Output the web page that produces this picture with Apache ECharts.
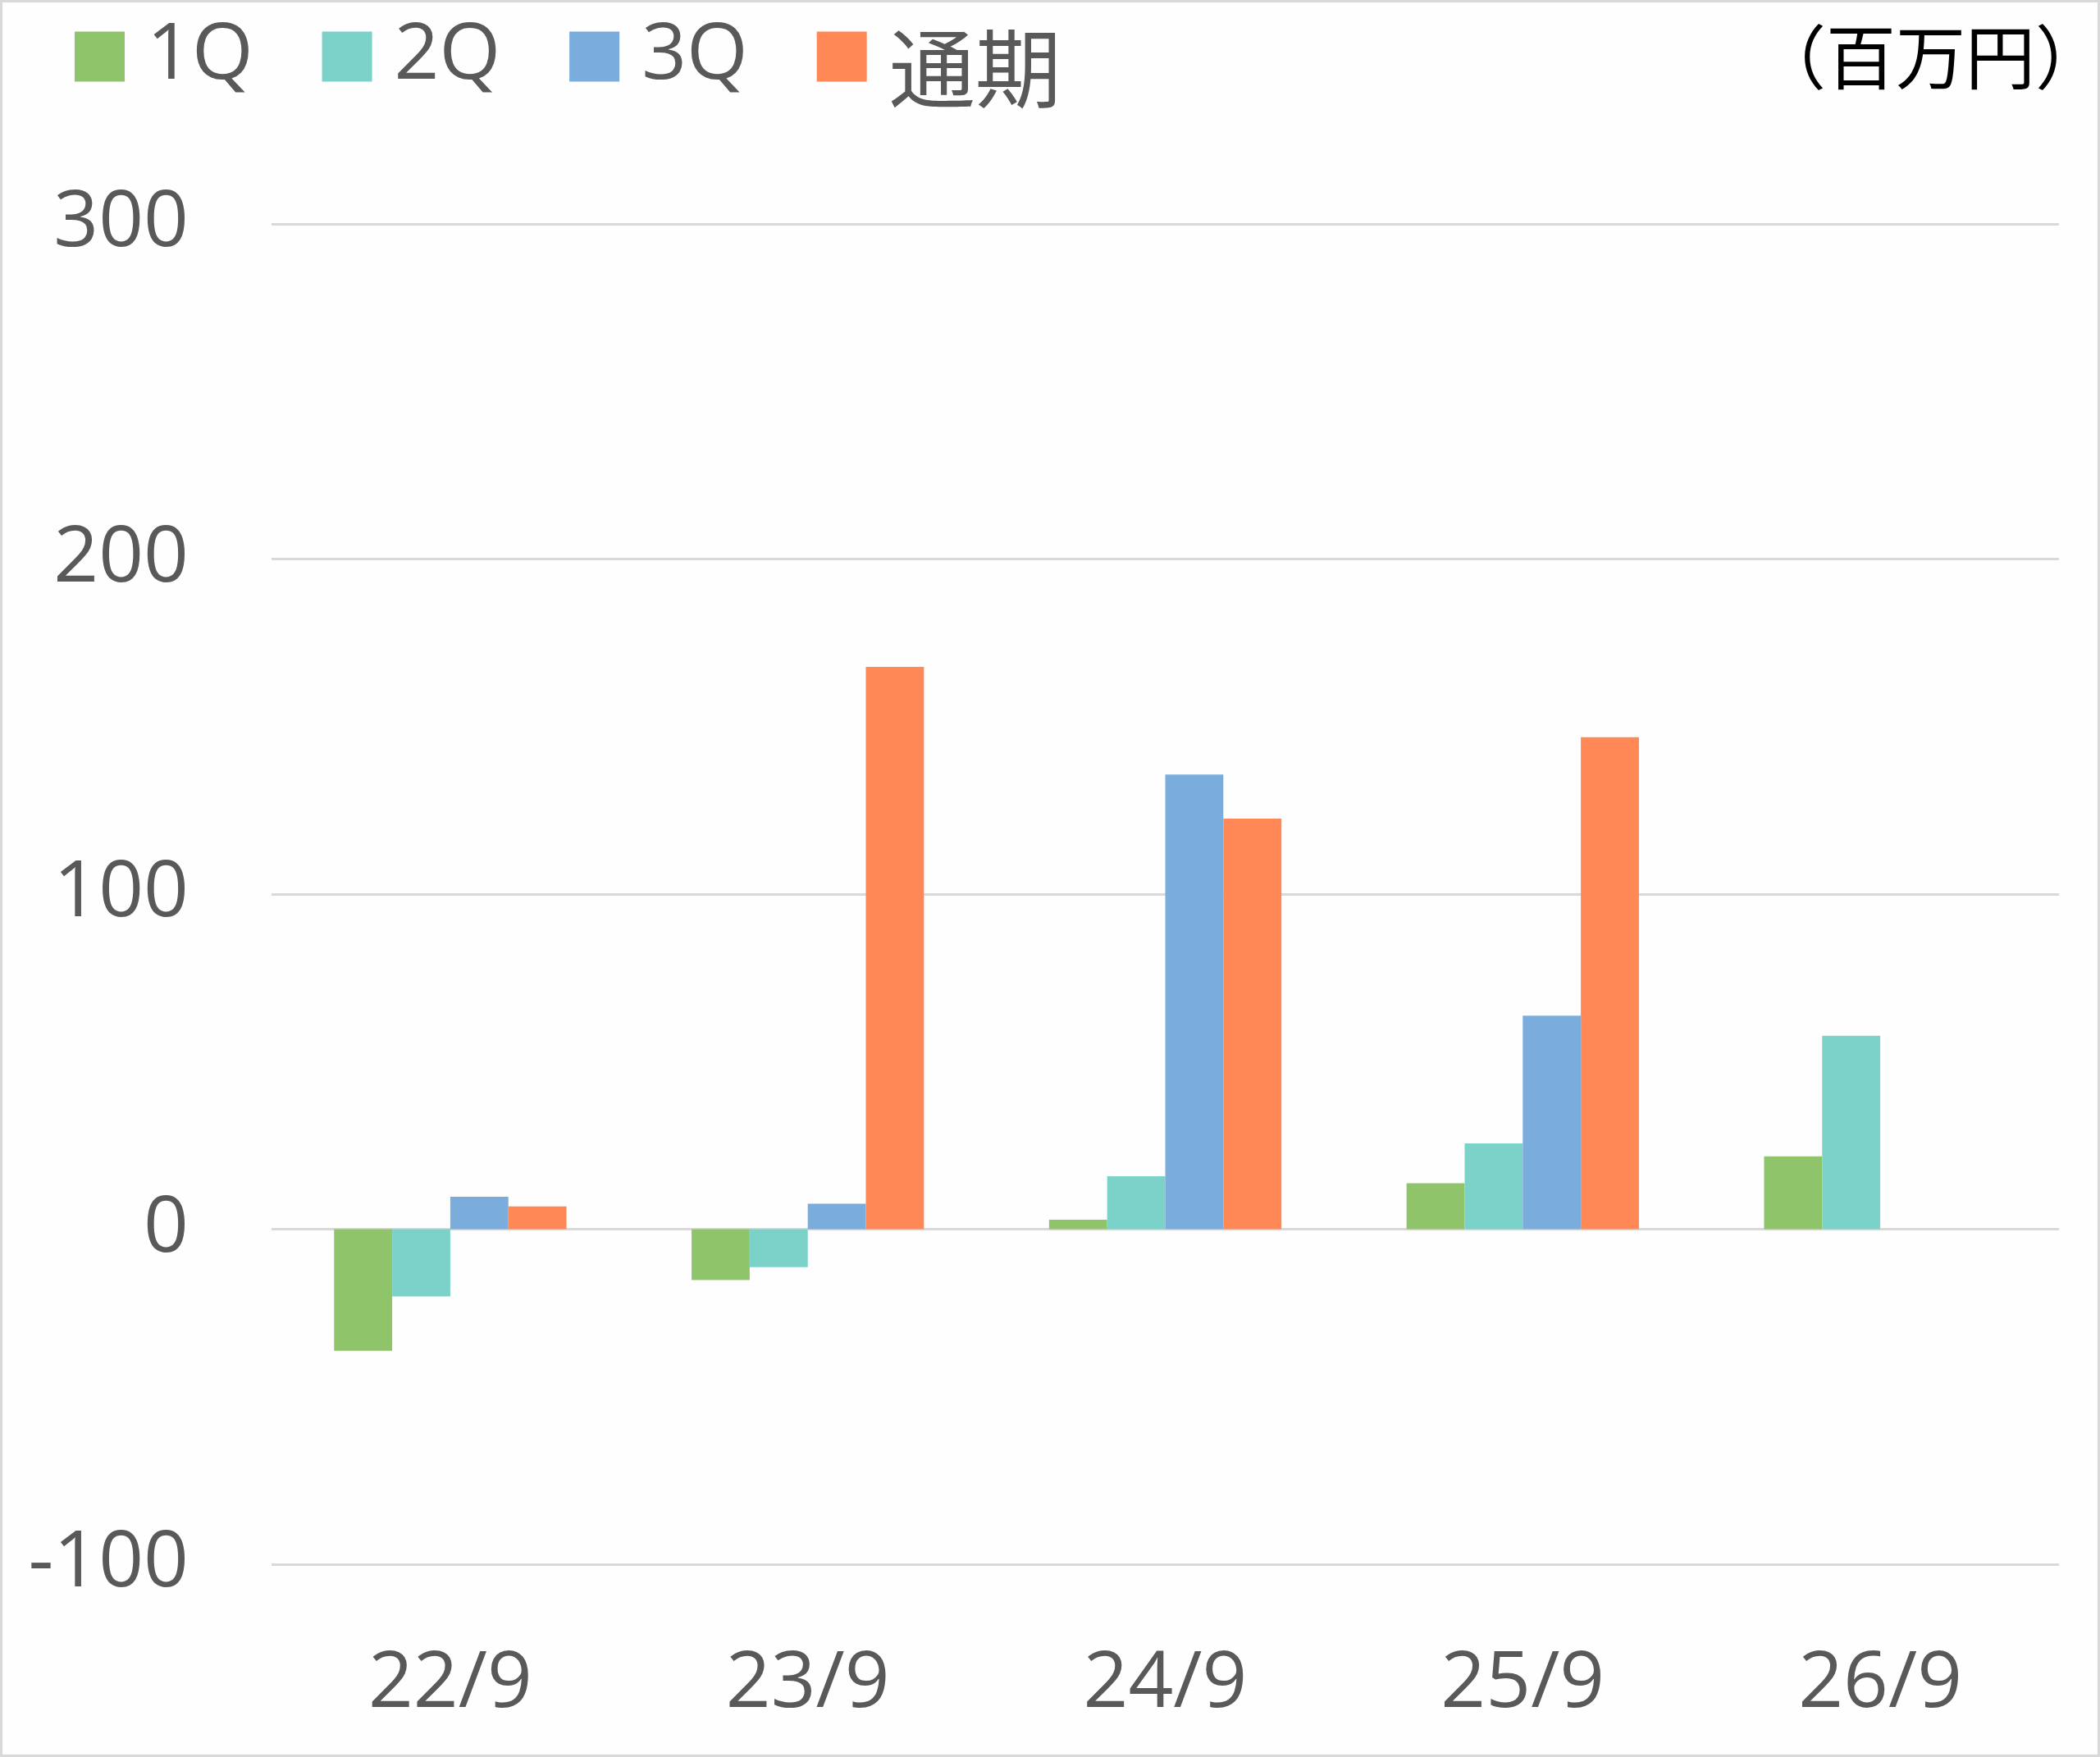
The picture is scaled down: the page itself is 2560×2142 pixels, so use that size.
<!DOCTYPE html>
<html lang="ja">
<head>
<meta charset="UTF-8">
<title>四半期別 利益推移</title>
<style>
    html, body { margin: 0; padding: 0; background: #fff; }
    #m1 { width: 2560px; height: 2142px; box-sizing: border-box; border: 3px solid #d9d9d9; background: #fefefe; }
</style>
</head>
<body>
<div id="m1"></div>
<script src="https://cdn.jsdelivr.net/npm/echarts@6/dist/echarts.min.js"></script>
<script>
    // values (百万円)
    var categories = ['22/9', '23/9', '24/9', '25/9', '26/9'];
    var q1 = [-36.3, -15.2, 2.8, 13.7, 21.7];
    var q2 = [-20.1, -11.3, 15.8, 25.6, 57.7];
    var q3 = [9.7, 7.6, 135.7, 63.7, null];
    var full = [6.8, 167.8, 122.5, 146.8, null];
    var seriesNames = ['1Q', '2Q', '3Q', '通期'];
    var colors = ['#90C46B', '#7AD2C8', '#7AACDC', '#FF8856'];

    var font = '"Open Sans", "Noto Sans CJK JP", sans-serif';
    var textColor = '#595959';

    var my1 = echarts.init(document.getElementById('m1'));

    var seriesData = [q1, q2, q3, full];
    var series = [];
    for (var i = 0; i < seriesNames.length; i++) {
        series.push({
            name: seriesNames[i],
            type: 'bar',
            data: seriesData[i],
            barGap: '0%',
            barCategoryGap: '35%',
            itemStyle: { color: colors[i] }
        });
    }

    var option1 = {
        animation: false,
        color: colors,
        legend: {
            left: 88,
            top: 18,
            padding: 0,
            itemWidth: 61,
            itemHeight: 61,
            itemGap: 84,
            icon: 'rect',
            data: seriesNames,
            // the kanji item sits a little lower in the original
            formatter: function (name) {
                return /^[0-9]/.test(name) ? name : '{j|' + name + '}';
            },
            textStyle: {
                fontFamily: font,
                fontSize: 96,
                color: textColor,
                padding: [0, 0, 0, 22],
                rich: {
                    j: {
                        fontFamily: '"Noto Sans CJK JP"',
                        fontSize: 105,
                        color: textColor,
                        padding: [28, 0, 0, 0]
                    }
                }
            }
        },
        graphic: [{
            type: 'text',
            right: -9,
            top: 24,
            style: {
                text: '（百万円）',
                font: '85px "Noto Sans CJK JP"',
                fill: '#000'
            }
        }],
        grid: {
            left: 328,
            right: 47,
            top: 270,
            bottom: 232
        },
        xAxis: {
            type: 'category',
            data: categories,
            axisLine: { show: false, onZero: false },
            axisTick: { show: false },
            axisLabel: {
                margin: 99,
                fontFamily: font,
                fontSize: 96,
                color: textColor
            }
        },
        yAxis: {
            type: 'value',
            min: -100,
            max: 300,
            interval: 100,
            axisLine: { show: false },
            axisTick: { show: false },
            axisLabel: {
                margin: 101,
                fontFamily: font,
                fontSize: 96,
                color: textColor
            },
            splitLine: { lineStyle: { color: '#d9d9d9', width: 3 } }
        },
        series: series
    };
    my1.setOption(option1);
</script>
</body>
</html>
